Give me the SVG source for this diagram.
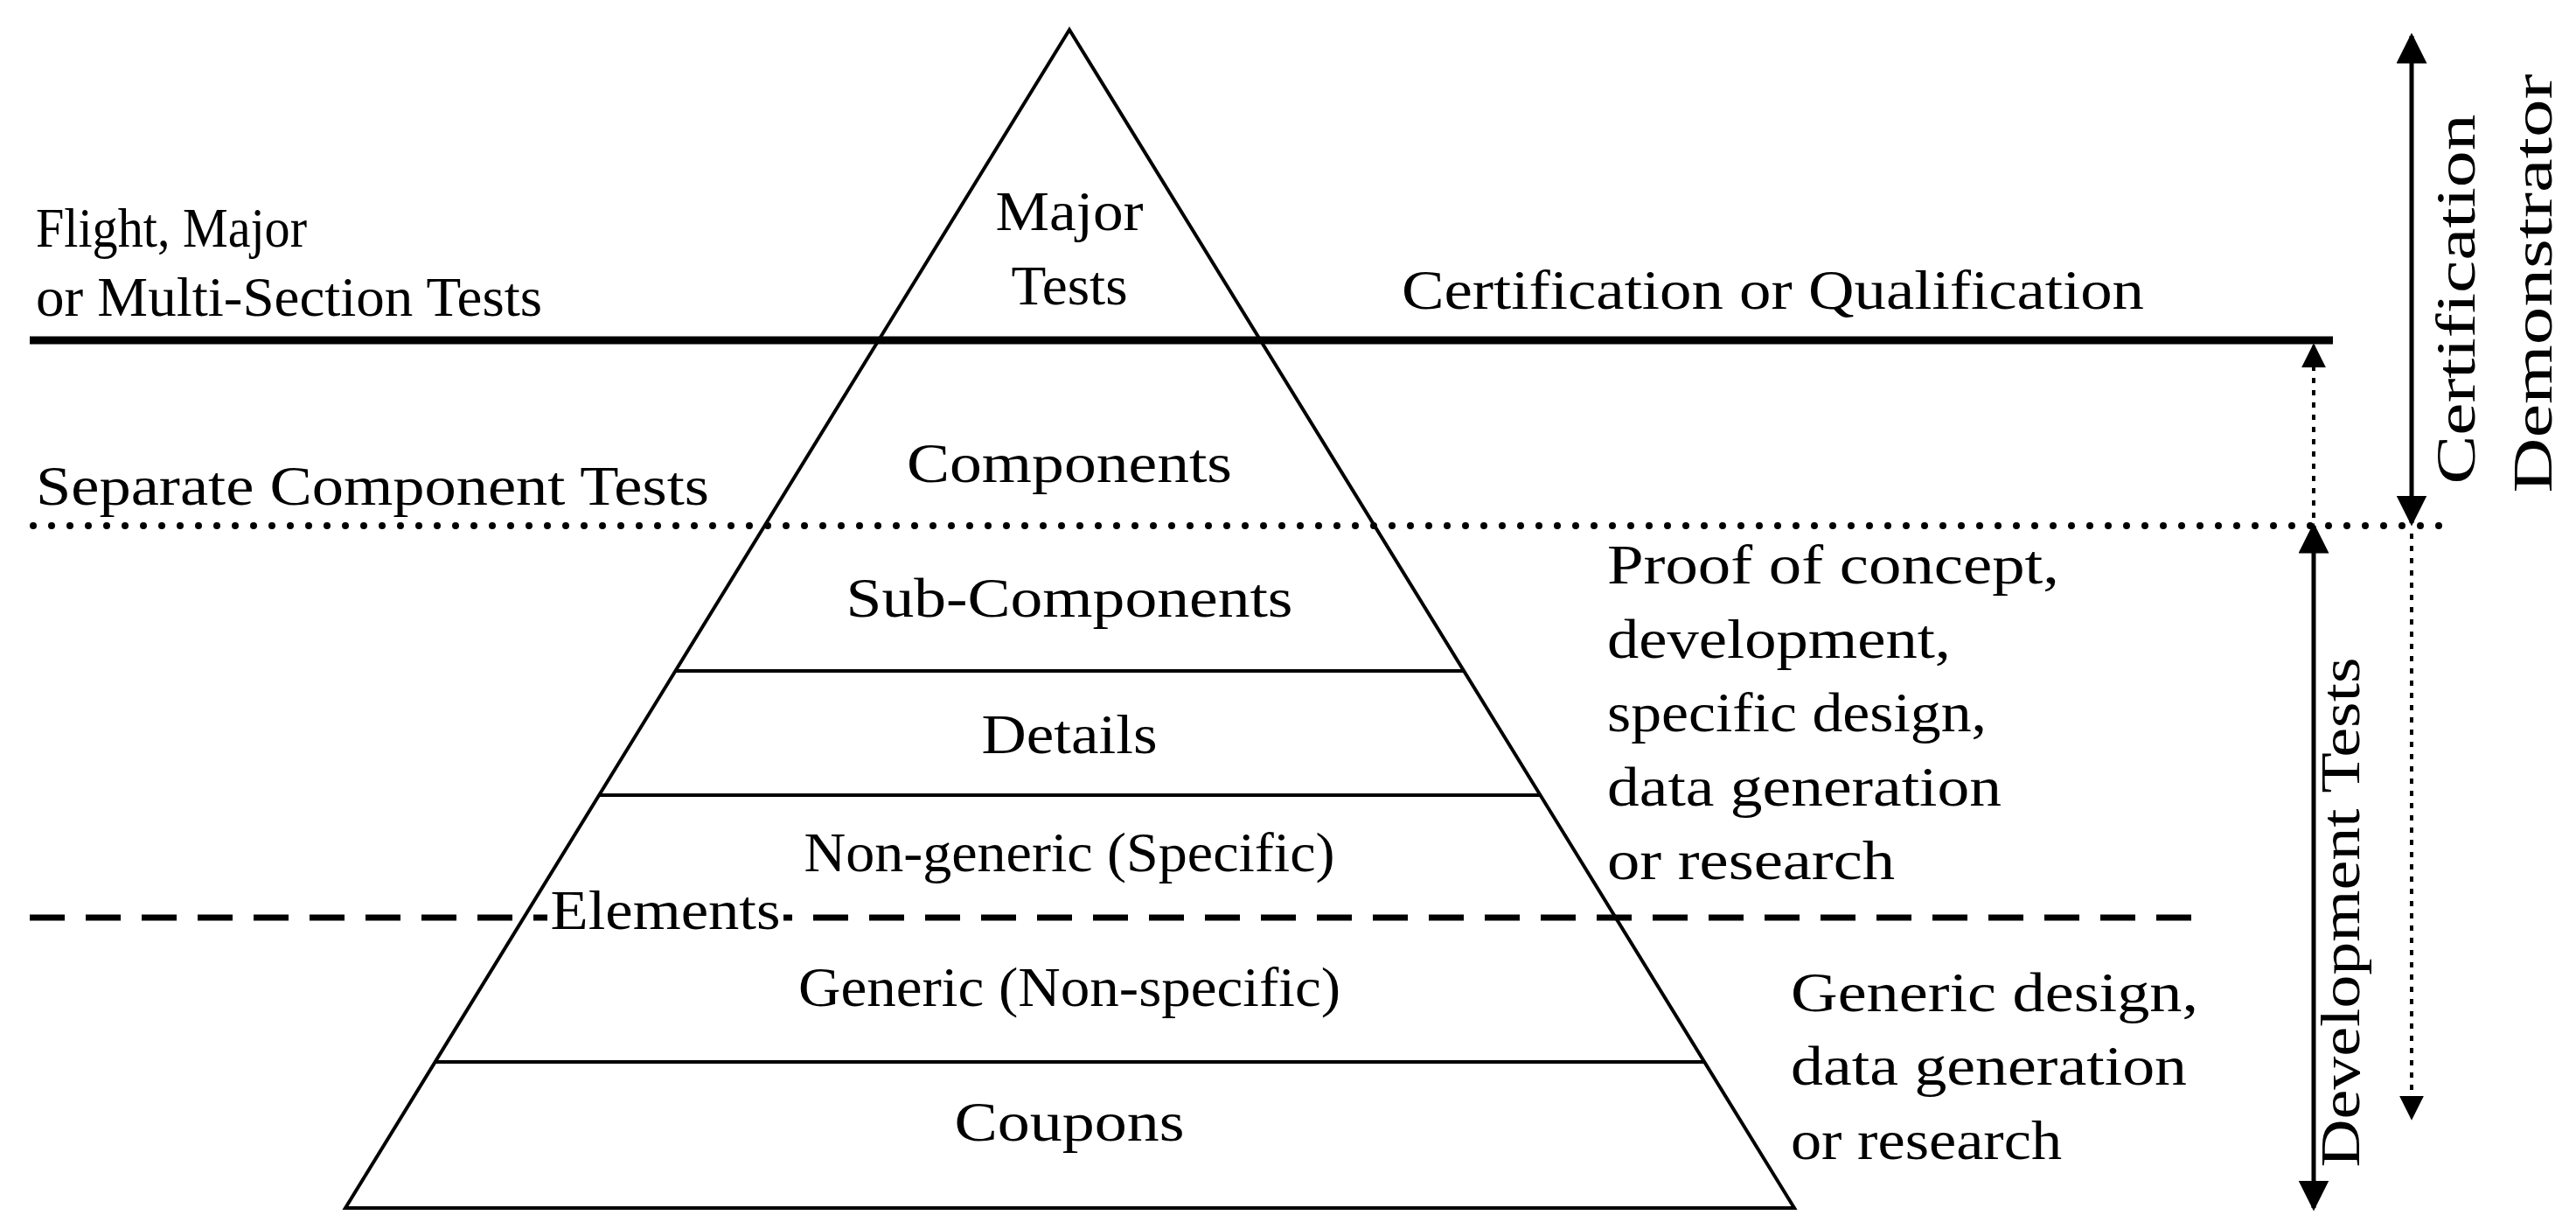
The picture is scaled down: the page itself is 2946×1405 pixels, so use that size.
<svg xmlns="http://www.w3.org/2000/svg" width="2946" height="1405" viewBox="0 0 2946 1405">
<style>
text{font-family:"Liberation Serif","DejaVu Serif",serif;font-size:64px;fill:#000}
.c{text-anchor:middle}
.ln{stroke:#000;fill:none}
</style>
<defs>
<marker id="ah2" viewBox="0 0 10 10" refX="9" refY="5" markerWidth="7" markerHeight="7" orient="auto-start-reverse"><path d="M0,0L10,5L0,10z" fill="#000"/></marker>
</defs>
<rect width="2946" height="1405" fill="#fff"/>
<g id="pyramid">
<path class="ln" stroke-width="4" d="M1223,34L2052,1381L395,1381Z"/>
<line class="ln" stroke-width="4" x1="772" y1="767" x2="1674" y2="767"/>
<line class="ln" stroke-width="4" x1="685" y1="909" x2="1761" y2="909"/>
<line class="ln" stroke-width="4" x1="498" y1="1214" x2="1948" y2="1214"/>
</g>
<g id="connectors">
<line class="ln" stroke-width="9" x1="34" y1="389" x2="2668" y2="389"/>
<line class="ln" stroke-width="8" stroke-linecap="round" stroke-dasharray="0 21" x1="38" y1="601" x2="2800" y2="601"/>
<line class="ln" stroke-width="7" stroke-dasharray="40 24" x1="34" y1="1049" x2="2527" y2="1049"/>
<line class="ln" stroke-width="5" x1="2758" y1="41" x2="2758" y2="598" marker-start="url(#ah2)" marker-end="url(#ah2)"/>
<line class="ln" stroke-width="4" stroke-dasharray="6 8" x1="2646" y1="592" x2="2646" y2="395" marker-end="url(#ah2)"/>
<line class="ln" stroke-width="5" x1="2646" y1="601" x2="2646" y2="1381" marker-start="url(#ah2)" marker-end="url(#ah2)"/>
<line class="ln" stroke-width="4" stroke-dasharray="6 8" x1="2758" y1="610" x2="2758" y2="1278" marker-end="url(#ah2)"/>
</g>
<g id="labels">
<text x="41" y="282" textLength="310" lengthAdjust="spacingAndGlyphs">Flight, Major</text>
<text x="41" y="361" textLength="579" lengthAdjust="spacingAndGlyphs">or Multi-Section Tests</text>
<text class="c" x="1223" y="263" textLength="169" lengthAdjust="spacingAndGlyphs">Major</text>
<text class="c" x="1223" y="348" textLength="133" lengthAdjust="spacingAndGlyphs">Tests</text>
<text x="1603" y="353" textLength="849" lengthAdjust="spacingAndGlyphs">Certification or Qualification</text>
<text x="41" y="577" textLength="770" lengthAdjust="spacingAndGlyphs">Separate Component Tests</text>
<text class="c" x="1223" y="551" textLength="372" lengthAdjust="spacingAndGlyphs">Components</text>
<text class="c" x="1223" y="705" textLength="511" lengthAdjust="spacingAndGlyphs">Sub-Components</text>
<text class="c" x="1223" y="861" textLength="201" lengthAdjust="spacingAndGlyphs">Details</text>
<text class="c" x="1223" y="996" textLength="607" lengthAdjust="spacingAndGlyphs">Non-generic (Specific)</text>
<rect x="626" y="1030" width="270" height="38" fill="#fff"/>
<text class="c" x="761" y="1062" textLength="263" lengthAdjust="spacingAndGlyphs">Elements</text>
<text class="c" x="1223" y="1150" textLength="620" lengthAdjust="spacingAndGlyphs">Generic (Non-specific)</text>
<text class="c" x="1223" y="1304" textLength="263" lengthAdjust="spacingAndGlyphs">Coupons</text>
<text x="1838" y="667" textLength="517" lengthAdjust="spacingAndGlyphs">Proof of concept,</text>
<text x="1838" y="752" textLength="393" lengthAdjust="spacingAndGlyphs">development,</text>
<text x="1838" y="836" textLength="434" lengthAdjust="spacingAndGlyphs">specific design,</text>
<text x="1838" y="921" textLength="451" lengthAdjust="spacingAndGlyphs">data generation</text>
<text x="1838" y="1005" textLength="329" lengthAdjust="spacingAndGlyphs">or research</text>
<text x="2048" y="1156" textLength="466" lengthAdjust="spacingAndGlyphs">Generic design,</text>
<text x="2048" y="1240" textLength="453" lengthAdjust="spacingAndGlyphs">data generation</text>
<text x="2048" y="1325" textLength="310" lengthAdjust="spacingAndGlyphs">or research</text>
<text class="c" transform="translate(2830,342) rotate(-90)" textLength="423" lengthAdjust="spacingAndGlyphs">Certification</text>
<text class="c" transform="translate(2918,324) rotate(-90)" textLength="479" lengthAdjust="spacingAndGlyphs">Demonstrator</text>
<text class="c" transform="translate(2698,1043) rotate(-90)" textLength="583" lengthAdjust="spacingAndGlyphs">Development Tests</text>
</g>
</svg>
